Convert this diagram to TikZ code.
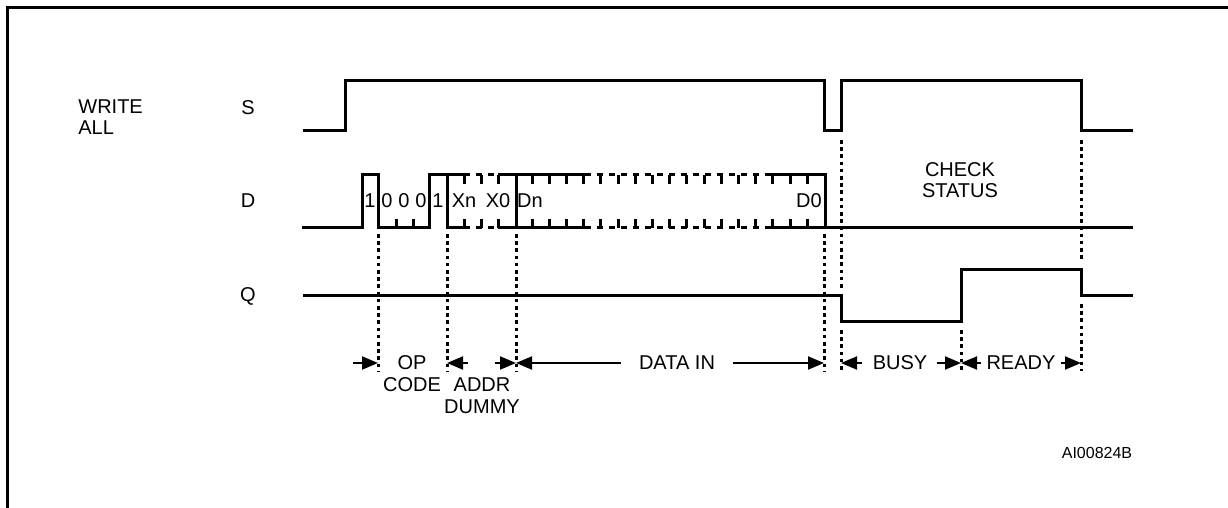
\documentclass[tikz,border=0pt]{standalone}
\usepackage{fontspec}
\setmainfont{Liberation Sans}
\usetikzlibrary{arrows.meta}

\begin{document}
\begin{tikzpicture}[x=0.5pt, y=-0.5pt,
    signal/.style={line width=1.5pt},
    guide/.style={line width=1.5pt, dash pattern=on 1.8pt off 1.8pt},
    busdash/.style={line width=1.5pt, dash pattern=on 3pt off 3pt},
    tickline/.style={line width=1.5pt},
    dimarrow/.style={line width=1pt, -{Triangle[length=8pt,width=6.5pt]}},
    txt/.style={font=\fontsize{10}{12}\selectfont, inner sep=0pt},
    ]
    \useasboundingbox (0,0) rectangle (1228,508);
    \draw[line width=1.5pt] (7,508) -- (7,8) -- (1228,8);

    %Nodes
    \node[txt, anchor=west, align=left, font=\fontsize{10}{10.5}\selectfont] (mode) at (78,117) {WRITE\\ALL};
    \node[txt] (sname) at (248,108) {S};
    \node[txt] (dname) at (248,201) {D};
    \node[txt] (qname) at (248,296) {Q};
    \node[txt, align=center, font=\fontsize{10}{10.5}\selectfont] (check) at (960,180) {CHECK\\STATUS};
    \node[txt] (figid) at (1097,453) {\fontsize{8}{10}\selectfont AI00824B};

    % bits on D
    \node[txt] (b1)  at (370,201) {1};
    \node[txt] (b2)  at (387,201) {0};
    \node[txt] (b3)  at (404,201) {0};
    \node[txt] (b4)  at (421,201) {0};
    \node[txt] (b5)  at (438,201) {1};
    \node[txt] (xn)  at (464,201) {Xn};
    \node[txt] (xz)  at (498,201) {X0};
    \node[txt] (dn)  at (530,201) {Dn};
    \node[txt] (dz)  at (809,201) {D0};

    % time marks
    \coordinate (tOp)   at (378,363);
    \coordinate (tAddr) at (447,363);
    \coordinate (tData) at (516,363);
    \coordinate (tEnd)  at (824,363);
    \coordinate (tBusy) at (841,363);
    \coordinate (tRdy)  at (961,363);
    \coordinate (tStop) at (1081,363);

    %Signals
    \draw[signal] (303,131) -| (345,81) -| (824,131) -| (841,81) -| (1081,131) -- (1133,131);
    \draw[signal] (302,228) -| (362,175) -| (378,228) -| (429,175) -- (464,175);
    \draw[busdash] (464,175) -- (498,175);
    \draw[signal] (498,175) -- (585,175);
    \draw[busdash] (585,175) -- (767,175);
    \draw[signal] (767,175) -- (825,175) -- (825,228) -- (1133,228);
    \draw[signal] (447,175) -- (447,228) -- (464,228);
    \draw[busdash] (464,228) -- (498,228);
    \draw[signal] (498,228) -- (585,228);
    \draw[busdash] (585,228) -- (767,228);
    \draw[signal] (767,228) -- (825,228);
    \draw[signal] (516,175) -- (516,228);
    \draw[signal] (303,296) -| (841,321) -| (961,270) -| (1081,296) -- (1133,296);

    % ticks
    \foreach \x in {396,413} \draw[tickline] (\x,228) -- (\x,219);
    \foreach \x in {464,481,498,532,549.2,...,808} {
        \draw[tickline] (\x,175) -- (\x,184);
        \draw[tickline] (\x,228) -- (\x,219);
    }

    %Lines
    \draw[guide] (378,234) -- (tOp) -- ++(0,8);
    \draw[guide] (447,234) -- (tAddr) -- ++(0,8);
    \draw[guide] (516,234) -- (tData) -- ++(0,8);
    \draw[guide] (824,234) -- (tEnd) -- ++(0,8);
    \draw[guide] (841,140) -- (841,290);
    \draw[guide] (841,330) -- (tBusy) -- ++(0,8);
    \draw[guide] (961,330) -- (tRdy) -- ++(0,8);
    \draw[guide] (1081,140) -- (1081,262);
    \draw[guide] (1081,304) -- (tStop) -- ++(0,8);

    %Spans
    \node[txt] (op)    at (412,363) {OP};
    \node[txt] (code)  at (412,385) {CODE};
    \node[txt] (addr)  at (482,385) {ADDR};
    \node[txt] (dummy) at (482,407) {DUMMY};
    \node[txt] (din)   at (677,363) {DATA IN};
    \node[txt] (busy)  at (900,363) {BUSY};
    \node[txt] (ready) at (1021,363) {READY};

    \coordinate (opTail)   at (353,363);
    \coordinate (addrTail) at (468,363);
    \coordinate (dataTail) at (495,363);

    \draw[dimarrow] (opTail) -- (tOp);
    \draw[dimarrow] (addrTail) -- (tAddr);
    \draw[dimarrow] (dataTail) -- (tData);
    \draw[dimarrow] ([xshift=-9pt]din.west) -- (tData);
    \draw[dimarrow] ([xshift=9pt]din.east) -- (tEnd);
    \draw[dimarrow] ([xshift=-5pt]busy.west) -- (tBusy);
    \draw[dimarrow] ([xshift=4.5pt]busy.east) -- (tRdy);
    \draw[dimarrow] ([xshift=-2.5pt]ready.west) -- (tRdy);
    \draw[dimarrow] ([xshift=2.5pt]ready.east) -- (tStop);

\end{tikzpicture}
\end{document}
